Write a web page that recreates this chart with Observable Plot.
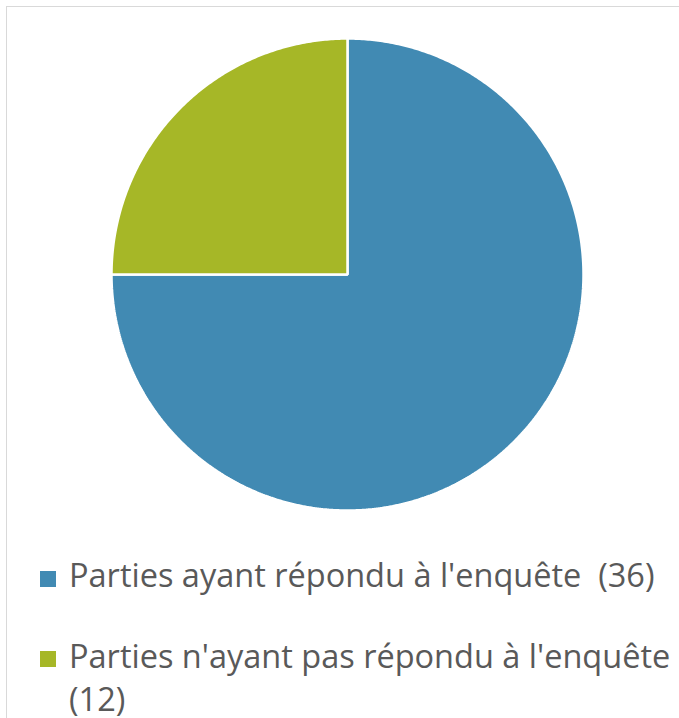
<!DOCTYPE html>
<html>
<head>
<meta charset="utf-8">
<script src="https://cdn.jsdelivr.net/npm/d3@7"></script>
<script src="https://cdn.jsdelivr.net/npm/@observablehq/plot@0.6"></script>
<style>
  html, body { margin: 0; padding: 0; background: #fff; overflow: hidden; }
  body { width: 679px; height: 718px; position: relative; font-family: "Open Sans", sans-serif; }
  #frame { position: absolute; left: 6px; top: 6px; width: 800px; height: 800px; border: 1.5px solid #d9d9d9; box-sizing: border-box; }
  #chart { position: absolute; left: 0; top: 0; }
  .item { position: absolute; left: 40px; width: 640px; }
  .swatch { position: absolute; left: 0; width: 16px; height: 16px; }
  .label { position: absolute; left: 29px; width: 605px; white-space: pre-wrap; color: #595959; font-size: 32.5px; line-height: 43px; }
</style>
</head>
<body>
<div id="frame"></div>
<div id="chart"></div>
<div id="legend"></div>
<script>
const categories = ["Parties ayant répondu à l'enquête", "Parties n'ayant pas répondu à l'enquête"];
const values = [36, 12];
const legendLabels = ["Parties ayant répondu à l'enquête  (36)", "Parties n'ayant pas répondu à l'enquête (12)"];
const colors = ["#418AB3", "#A6B727"];

const table = categories.map((c, i) => ({category: c, value: values[i]}));
const arcs = d3.pie().sort(null).value(d => d.value)(table);

// Build slice outlines on a unit circle from the pie angles
const pts = [];
arcs.forEach(a => {
  const c = a.data.category;
  pts.push({category: c, x: 0, y: 0});
  const n = Math.max(2, Math.ceil((a.endAngle - a.startAngle) / (Math.PI / 360)));
  for (let k = 0; k <= n; k++) {
    const t = a.startAngle + (a.endAngle - a.startAngle) * k / n;
    pts.push({category: c, x: Math.sin(t), y: Math.cos(t)});
  }
});

const plot = Plot.plot({
  width: 679,
  height: 548,
  marginLeft: 111,
  marginRight: 96,
  marginTop: 38,
  marginBottom: 38,
  x: {domain: [-1, 1], axis: null},
  y: {domain: [-1, 1], axis: null},
  color: {domain: categories, range: colors},
  marks: [
    Plot.line(pts, {x: "x", y: "y", z: "category", fill: "category", stroke: "#fff", strokeWidth: 2.5, curve: "linear-closed", strokeLinejoin: "miter"})
  ]
});
document.getElementById("chart").appendChild(plot);

const legend = document.getElementById("legend");
const tops = [553, 634];
const swTops = [18, 17];
legendLabels.forEach((lab, i) => {
  const item = document.createElement("div");
  item.className = "item";
  item.style.top = tops[i] + "px";
  const sw = document.createElement("div");
  sw.className = "swatch";
  sw.style.background = colors[i];
  sw.style.top = swTops[i] + "px";
  const tx = document.createElement("div");
  tx.className = "label";
  tx.style.top = "0px";
  tx.textContent = lab;
  item.appendChild(sw);
  item.appendChild(tx);
  legend.appendChild(item);
});
</script>
</body>
</html>
